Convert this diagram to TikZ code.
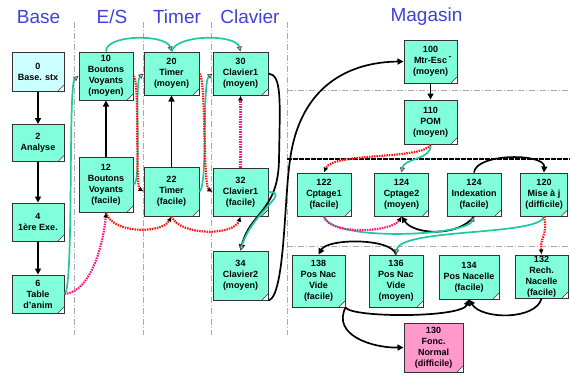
\documentclass[tikz,border=0pt]{standalone}
\usepackage{fontspec}
\setmainfont{Liberation Sans}
\usetikzlibrary{arrows.meta}

\definecolor{aqua}{RGB}{128,255,218}
\definecolor{paleblue}{RGB}{204,255,255}
\definecolor{rosebox}{RGB}{255,153,204}
\definecolor{titleblue}{RGB}{64,64,220}
\definecolor{linkgreen}{RGB}{30,200,160}
\definecolor{linkred}{RGB}{255,20,20}
\definecolor{linkpink}{RGB}{255,20,130}
\definecolor{sepgrey}{RGB}{170,170,170}

\tikzset{
  card/.style={draw=black!80, line width=1pt, fill=aqua, align=center,
    font=\fontsize{9}{11}\selectfont\bfseries, inner sep=0pt,
    path picture={
      \fill[white] ([xshift=-6pt]path picture bounding box.south east)
        -- ([yshift=6pt]path picture bounding box.south east)
        -- (path picture bounding box.south east) -- cycle;
      \draw[black!80, line width=0.5pt]
        ([xshift=-6pt]path picture bounding box.south east)
        -- ([yshift=6pt]path picture bounding box.south east);
    }},
  sz/.style 2 args={minimum width=#1pt, minimum height=#2pt},
  title/.style={text=titleblue, font=\fontsize{19}{19}\selectfont},
  sep/.style={sepgrey, line width=0.6pt, dash pattern=on 6pt off 2pt on 1pt off 2pt},
  dep/.style={black, line width=1.7pt, -{Triangle[length=6pt,width=6pt]}},
  grn/.style={linkgreen, line width=1.7pt, -{Triangle[length=5pt,width=5pt,fill=linkgreen!40,color=black!70,line width=0.8pt]}},
  reddot/.style={linkred, line width=2.2pt, dash pattern=on 1.5pt off 1pt, -{Latex[black,length=5pt,width=5pt]}},
  pinkdot/.style={linkpink, line width=2.2pt, dash pattern=on 1.5pt off 1pt, -{Latex[black,length=5pt,width=5pt]}},
}

\begin{document}
\begin{tikzpicture}[x=1pt, y=-1pt]
\useasboundingbox (0,0) rectangle (570,375);

% column titles
\node[title] (tBase) at (38.5,17) {Base};
\node[title] (tES) at (112,17) {E/S};
\node[title] (tTimer) at (177,17) {Timer};
\node[title] (tClav) at (250,17) {Clavier};
\node[title] (tMag) at (426.5,17) {Magasin};

% separators
\draw[sep] (74,22) -- (74,335);
\draw[sep] (143,22) -- (143,335);
\draw[sep] (211,22) -- (211,335);
\draw[sep] (287,22) -- (287,335);
\draw[sep] (287,90) -- (570,90);
\draw[sep] (287,246) -- (570,246);
\draw[black, line width=1.8pt, dash pattern=on 5pt off 1pt] (287,159) -- (570,159);

% Base column
\node[card, sz={52}{39}, fill=paleblue] (n0) at (38,71.5) {0\\Base. stx};
\node[card, sz={52}{37}] (n2) at (38,143) {2\\Analyse};
\node[card, sz={52}{38}] (n4) at (38,222) {4\\1ère Exe.};
\node[card, sz={52}{38}] (n6) at (38,294) {6\\Table\\d'anim};

% E/S column
\node[card, sz={54}{48}] (n10) at (106,76) {10\\Boutons\\Voyants\\(moyen)};
\node[card, sz={54}{55}] (n12) at (106,184.5) {12\\Boutons\\Voyants\\(facile)};

% Timer column
\node[card, sz={55}{43}] (n20) at (171.5,73.5) {20\\Timer\\(moyen)};
\node[card, sz={55}{49}] (n22) at (171.5,191.5) {22\\Timer\\(facile)};

% Clavier column
\node[card, sz={55}{43}] (n30) at (240.5,73.5) {30\\Clavier1\\(moyen)};
\node[card, sz={55}{48}] (n32) at (240.5,192) {32\\Clavier1\\(facile)};
\node[card, sz={55}{49}] (n34) at (240.5,275.5) {34\\Clavier2\\(moyen)};

% Magasin
\node[card, sz={53}{43}] (n100) at (430.5,61.5) {100\\Mtr-Esc\rlap{\raisebox{4pt}{\,-}}\\(moyen)};
\node[card, sz={53}{44}] (n110) at (430.5,122) {110\\POM\\(moyen)};
\node[card, sz={54}{43}] (n122) at (324,194.5) {122\\Cptage1\\(facile)};
\node[card, sz={54}{43}] (n124a) at (401.5,194.5) {124\\Cptage2\\(moyen)};
\node[card, sz={54}{43}] (n124b) at (474,194.5) {124\\Indexation\\(facile)};
\node[card, sz={47}{43}] (n120) at (544,194.5) {120\\Mise à j\\(difficile)};
\node[card, sz={53}{52}] (n138) at (318.5,281) {138\\Pos Nac\\Vide\\(facile)};
\node[card, sz={54}{52}] (n136) at (396,281) {136\\Pos Nac\\Vide\\(moyen)};
\node[card, sz={60}{44}] (n134) at (469,277) {134\\Pos Nacelle\\(facile)};
\node[card, sz={53}{43}] (n132) at (541.5,276.5) {132\\Rech.\\Nacelle\\(facile)};
\node[card, sz={59}{49}, fill=rosebox] (n130) at (433.5,347.5) {130\\Fonc.\\Normal\\(difficile)};

% black dependencies
\draw[dep] (n0) -- (n2);
\draw[dep] (n2) -- (n4);
\draw[dep] (n4) -- (n6);
\draw[dep] (n12) -- (n10);
\draw[dep] (n22) -- (n20);
\draw[dep] (n100) -- (n110);
\draw[dep] (n30.east) .. controls (282,75) and (280,100) .. (279,160)
  .. controls (278,212) and (250,212) .. (n34.north);
\draw[dep] (n34.south east) .. controls (285,296) and (284,200) .. (290,160)
  .. controls (300,85) and (350,62) .. (n100.west);
\draw[dep] (n124b.north) .. controls (476,153) and (545,153) .. (n120.north);
\draw[dep] (n124b.south) .. controls (458,237) and (414,235) .. (n124a.south);
\draw[dep] (n136.north) .. controls (392,238) and (328,238) .. (n138.north);
\draw[dep] (n132.south) .. controls (536,320) and (482,320) .. (n134.south);
\draw[dep] (n138.south east) .. controls (352,318) and (462,318) .. (n134.south);
\draw[dep] (n138.south east) .. controls (332,335) and (372,348) .. (n130.west);

% green links
\draw[grn] (n10.north) .. controls (106,34) and (166,34) .. (n20.north);
\draw[grn] (n20.north) .. controls (176,34) and (236,34) .. (n30.north);
\draw[grn] (n6.east) .. controls (74,290) and (68,84) .. (n10.west);
\draw[grn] (n12.east) .. controls (142,186) and (134,82) .. (n20.west);
\draw[grn] (n22.east) .. controls (208,186) and (202,82) .. (n30.west);
\draw[grn] (n32.east) .. controls (292,192) and (252,212) .. (n34.north);
\draw[grn] (n110.south) .. controls (432,160) and (404,158) .. (n124a.north);
\draw[grn] (n122.south) .. controls (332,242) and (466,236) .. (n124b.south);
\draw[grn] (n120.south) .. controls (540,236) and (400,228) .. (n136.north);

% dotted links
\draw[reddot] (n10.east) .. controls (140,80) and (135,186) .. (n22.west);
\draw[reddot] (n20.east) .. controls (206,78) and (203,186) .. (n32.west);
\draw[reddot] (n12.south) .. controls (112,234) and (162,234) .. (n22.south);
\draw[reddot] (n22.south) .. controls (180,236) and (234,236) .. (n32.south);
\draw[pinkdot] (n6.east) .. controls (92,292) and (104,240) .. (n12.south);
\draw[pinkdot] (n32.north) -- (n30.south);
\draw[reddot] (n110.south) .. controls (424,160) and (332,152) .. (n122.north);
\draw[pinkdot] (n122.south) .. controls (330,236) and (392,232) .. (n124a.south);
\draw[reddot] (n120.south) .. controls (548,236) and (540,236) .. (n132.north);
\end{tikzpicture}
\end{document}
